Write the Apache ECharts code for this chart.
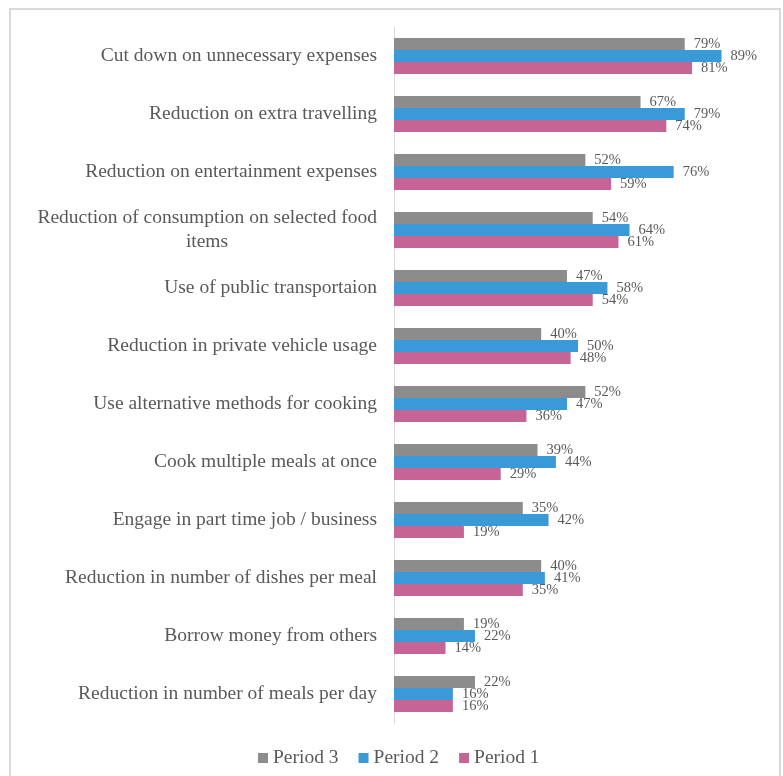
<!DOCTYPE html>
<html>
<head>
<meta charset="utf-8">
<script src="https://cdn.jsdelivr.net/npm/echarts@6/dist/echarts.min.js"></script>
<style>
  html, body { margin: 0; padding: 0; background: #ffffff; }
  #chart { width: 783px; height: 776px; }
</style>
</head>
<body>
<div id="chart"></div>
<script>
// Coping strategies, share of households per period (%)
const categories = [
  'Cut down on unnecessary expenses',
  'Reduction on extra travelling',
  'Reduction on entertainment expenses',
  'Reduction of consumption on selected food items',
  'Use of public transportaion',
  'Reduction in private vehicle usage',
  'Use alternative methods for cooking',
  'Cook multiple meals at once',
  'Engage in part time job / business',
  'Reduction in number of dishes per meal',
  'Borrow money from others',
  'Reduction in number of meals per day'
];
const period3 = [79, 67, 52, 54, 47, 40, 52, 39, 35, 40, 19, 22];
const period2 = [89, 79, 76, 64, 58, 50, 47, 44, 42, 41, 22, 16];
const period1 = [81, 74, 59, 61, 54, 48, 36, 29, 19, 35, 14, 16];
const seriesNames = ['Period 3', 'Period 2', 'Period 1'];

const FONT = '"Liberation Serif", "DejaVu Serif", serif';
const TEXT = '#595959';
const LABEL_SIZE = 19.5;
const LINE_H = 24;

// Width of a text line in the label font, used to centre wrapped lines
const ctx = document.createElement('canvas').getContext('2d');
ctx.font = LABEL_SIZE + 'px ' + FONT;
function textWidth(s) { return Math.ceil(ctx.measureText(s).width); }

// Long category names break after the first line's worth of words
const WRAP = 'Reduction of consumption on selected food';
function categoryLabel(name) {
  if (name.length <= WRAP.length) return name;
  const first = name.slice(0, WRAP.length);
  const rest = name.slice(WRAP.length).trim();
  return '{l|' + first + '}\n{c|' + rest + '}';
}

const chart = echarts.init(document.getElementById('chart'), null, { renderer: 'canvas' });

function barSeries(name, data, color) {
  return {
    name: name,
    type: 'bar',
    data: data,
    barGap: '0%',
    barCategoryGap: '38%',
    itemStyle: { color: color },
    label: {
      show: true,
      position: 'right',
      distance: 9,
      formatter: '{c}%',
      color: TEXT,
      fontFamily: FONT,
      fontSize: 14.5
    }
  };
}

const wrapWidth = textWidth(WRAP);

chart.setOption({
  backgroundColor: '#ffffff',
  animation: false,
  graphic: [{
    type: 'rect',
    shape: { x: 10, y: 9, width: 770, height: 800 },
    style: { fill: 'none', stroke: '#d9d9d9', lineWidth: 2 },
    silent: true
  }],
  grid: { left: 394, right: 21, top: 27, bottom: 53 },
  legend: {
    bottom: 3,
    left: 253,
    itemWidth: 10,
    itemHeight: 10,
    itemGap: 20,
    icon: 'rect',
    textStyle: { color: TEXT, fontFamily: FONT, fontSize: LABEL_SIZE },
    data: seriesNames
  },
  xAxis: {
    type: 'value',
    min: 0,
    max: 100,
    show: false,
    splitLine: { show: false }
  },
  yAxis: {
    type: 'category',
    inverse: true,
    data: categories,
    axisLine: { show: true, lineStyle: { color: '#d9d9d9', width: 1 } },
    axisTick: { show: false },
    axisLabel: {
      margin: 17,
      color: TEXT,
      fontFamily: FONT,
      fontSize: LABEL_SIZE,
      lineHeight: LINE_H,
      formatter: categoryLabel,
      rich: {
        l: { color: TEXT, fontFamily: FONT, fontSize: LABEL_SIZE, lineHeight: LINE_H },
        c: { color: TEXT, fontFamily: FONT, fontSize: LABEL_SIZE, lineHeight: LINE_H, width: wrapWidth, align: 'center' }
      }
    }
  },
  series: [
    barSeries(seriesNames[0], period3, '#8c8c8c'),
    barSeries(seriesNames[1], period2, '#3a9ad7'),
    barSeries(seriesNames[2], period1, '#c66595')
  ]
});
</script>
</body>
</html>
